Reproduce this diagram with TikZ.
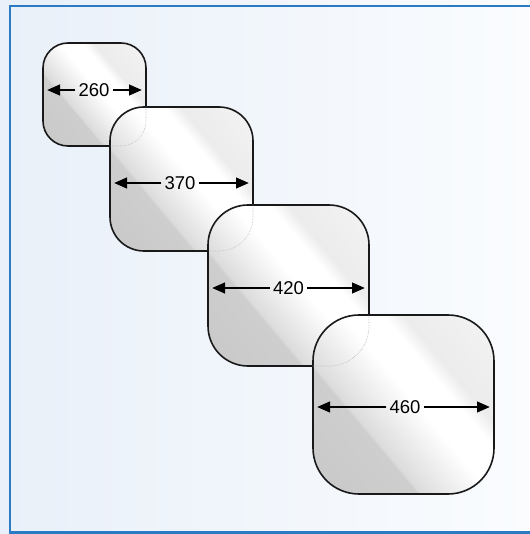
\documentclass[tikz,border=0pt]{standalone}
\usepackage{fontspec}
\setmainfont{Liberation Sans}
\usetikzlibrary{arrows.meta,calc}
\definecolor{sA}{HTML}{C8C8C8}
\definecolor{sB}{HTML}{CECECE}
\definecolor{sB2}{HTML}{DCDCDC}
\definecolor{sC}{HTML}{ECECEC}
\definecolor{sD}{HTML}{F1F1F1}
\definecolor{sE}{HTML}{F6F6F6}
\definecolor{bgL}{HTML}{E9F0F9}
\definecolor{bgR}{HTML}{FAFCFE}
\definecolor{frameblue}{HTML}{2B7BC4}
\pgfdeclarehorizontalshading{boxshade}{100bp}{color(0bp)=(sA); color(25bp)=(sA); color(41bp)=(sB); color(41.6bp)=(sB2); color(52bp)=(white); color(58bp)=(white); color(61bp)=(sC); color(70bp)=(sD); color(75bp)=(sE); color(100bp)=(sE)}
\tikzset{
  boxnode/.style={outer sep=0pt, inner sep=0pt},
  boxline/.style={draw=black!90, line width=1.6pt},
  hidden/.style={draw=black!28, line width=0.6pt, densely dotted},
  lab/.style={inner sep=3pt, font=\fontsize{18.5}{22}\selectfont},
  dim/.style={line width=2.6pt, -{Triangle[length=13pt,width=10.5pt]}}
}
% #1 node name, #2 corner radius, #3 half size of shading square
\newcommand\glassbox[3]{%
  \begin{scope}
    \clip[rounded corners=#2] (#1.south west) rectangle (#1.north east);
    \begin{scope}[transform canvas={rotate around={40:(#1.center)}}]
      \shade[shading=boxshade] ($(#1.center)+(-#3,-#3)$) rectangle ($(#1.center)+(#3,#3)$);
    \end{scope}
  \end{scope}
  \draw[boxline, rounded corners=#2] (#1.south west) rectangle (#1.north east);
}
\begin{document}
\begin{tikzpicture}[x=1pt,y=-1pt]
\useasboundingbox (0,0) rectangle (529,534);
\shade[left color=bgL, right color=bgR] (0,0) rectangle (529,534);
\draw[frameblue, line width=2.5pt] (535,6) -- (10,6) -- (10,532.5) -- (535,532.5);

\node[boxnode, minimum width=103pt, minimum height=103pt] (b1) at (94.5,94.5) {};
\node[boxnode, minimum width=143pt, minimum height=144pt] (b2) at (181.5,179) {};
\node[boxnode, minimum width=161pt, minimum height=161pt] (b3) at (288.5,285.5) {};
\node[boxnode, minimum width=181pt, minimum height=179pt] (b4) at (403.5,404.5) {};

\glassbox{b1}{25pt}{74}
\glassbox{b2}{34pt}{103}
\begin{scope}
  \clip[rounded corners=34pt] (b2.south west) rectangle (b2.north east);
  \draw[hidden, rounded corners=25pt] (b1.south west) rectangle (b1.north east);
\end{scope}
\glassbox{b3}{40pt}{116}
\begin{scope}
  \clip[rounded corners=40pt] (b3.south west) rectangle (b3.north east);
  \draw[hidden, rounded corners=34pt] (b2.south west) rectangle (b2.north east);
\end{scope}
\glassbox{b4}{46pt}{130}
\begin{scope}
  \clip[rounded corners=46pt] (b4.south west) rectangle (b4.north east);
  \draw[hidden, rounded corners=40pt] (b3.south west) rectangle (b3.north east);
\end{scope}

\node[lab] (l1) at (94,90) {260};
\node[lab] (l2) at (180,183) {370};
\node[lab] (l3) at (288.5,288) {420};
\node[lab] (l4) at (405,407) {460};

\draw[dim] (l1.west) -- ([xshift=4pt]b1.west |- l1.west);
\draw[dim] (l1.east) -- ([xshift=-4pt]b1.east |- l1.east);
\draw[dim] (l2.west) -- ([xshift=4pt]b2.west |- l2.west);
\draw[dim] (l2.east) -- ([xshift=-4pt]b2.east |- l2.east);
\draw[dim] (l3.west) -- ([xshift=4pt]b3.west |- l3.west);
\draw[dim] (l3.east) -- ([xshift=-4pt]b3.east |- l3.east);
\draw[dim] (l4.west) -- ([xshift=4pt]b4.west |- l4.west);
\draw[dim] (l4.east) -- ([xshift=-4pt]b4.east |- l4.east);
\end{tikzpicture}
\end{document}
